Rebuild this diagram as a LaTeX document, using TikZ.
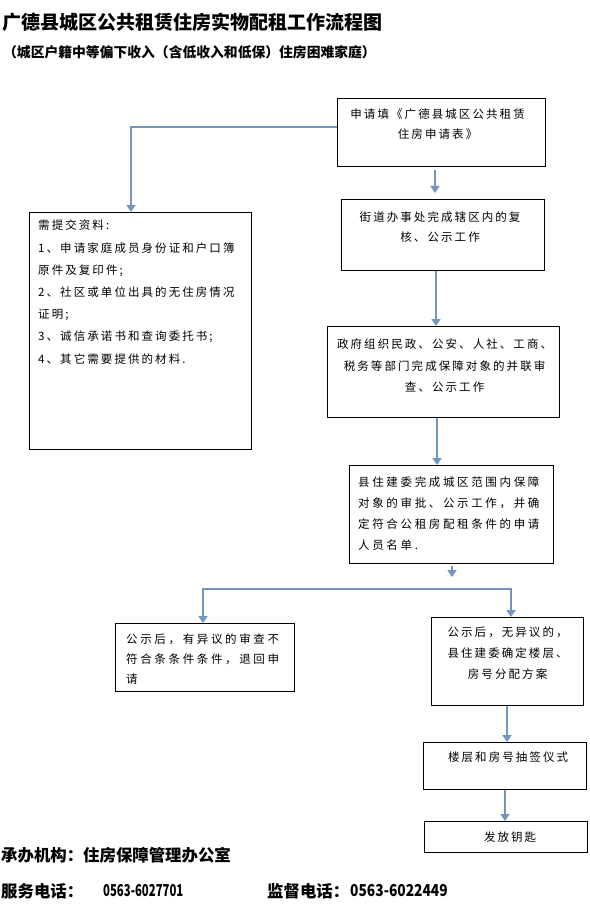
\documentclass[tikz,border=0pt]{standalone}
\usepackage{fontspec}
\usepackage{graphicx}
\usetikzlibrary{arrows.meta,calc}
\newfontfamily\cjk{Noto Sans CJK SC}
\newfontfamily\cjkls[LetterSpace=18]{Noto Sans CJK SC}
\newfontfamily\cjkwide[LetterSpace=23]{Noto Sans CJK SC}
\definecolor{conncol}{RGB}{115,150,190}
\tikzset{
  box/.style={draw=black, line width=1.2pt, inner sep=0pt, anchor=north west},
  txt/.style={inner sep=0pt, font=\cjkls\fontsize{11.5}{21}\selectfont, align=center, anchor=north},
  txtl/.style={inner sep=0pt, align=left, anchor=north west},
  conn/.style={draw=conncol, line width=2.6pt},
  arr/.style={-{Triangle[width=9pt,length=7pt]}},
  arrboth/.style={{Triangle[width=9pt,length=7pt]}-{Triangle[width=9pt,length=7pt]}},
  foot/.style={inner sep=0pt, anchor=west, font=\cjk\bfseries\fontsize{16.4}{18}\selectfont},
}
\begin{document}
\begin{tikzpicture}[x=1pt,y=-1pt]
\useasboundingbox[fill=white] (0,0) rectangle (589,904);

% titles
\node[inner sep=0pt, anchor=west, font=\cjk\bfseries\fontsize{19}{20}\selectfont] (title) at (2,22) {广德县城区公共租赁住房实物配租工作流程图};
\node[inner sep=0pt, anchor=west, font=\cjk\bfseries\fontsize{13.8}{14}\selectfont] (subtitle) at (3,52) {（城区户籍中等偏下收入（含低收入和低保）住房困难家庭）};

% boxes
\node[box, minimum width=208, minimum height=68] (b1) at (337,98) {};
\node[box, minimum width=203, minimum height=71] (b2) at (341,199) {};
\node[box, minimum width=222, minimum height=237] (b3) at (29,212) {};
\node[box, minimum width=232, minimum height=91] (b4) at (327,326) {};
\node[box, minimum width=204, minimum height=98] (b5) at (349,465) {};
\node[box, minimum width=179, minimum height=68] (b6) at (115,623) {};
\node[box, minimum width=152, minimum height=88] (b7) at (431,617) {};
\node[box, minimum width=163, minimum height=47] (b8) at (423,742) {};
\node[box, minimum width=163, minimum height=31] (b9) at (424,821) {};

% texts
\node[txt, font=\cjkls\fontsize{11.5}{20}\selectfont] (t1) at ($(b1.north)+(-4,11)$) {申请填《广德县城区公共租赁\\住房申请表》};
\node[txt, font=\cjkls\fontsize{11.5}{19.5}\selectfont] (t2) at ($(b2.north)+(-3,13)$) {街道办事处完成辖区内的复\\核、公示工作};
\node[txtl, font=\cjkls\fontsize{11.5}{22.2}\selectfont] (t3) at ($(b3.north west)+(9,8)$) {需提交资料:\\1、申请家庭成员身份证和户口簿\\原件及复印件;\\2、社区或单位出具的无住房情况\\证明;\\3、诚信承诺书和查询委托书;\\4、其它需要提供的材料.};
\node[txt, font=\cjkls\fontsize{11.5}{21.5}\selectfont] (t4) at ($(b4.north)+(1,13)$) {政府组织民政、公安、人社、工商、\\税务等部门完成保障对象的并联审\\查、公示工作};
\node[txtl, font=\cjkwide\fontsize{11.5}{20.7}\selectfont] (t5) at ($(b5.north west)+(9,12)$) {县住建委完成城区范围内保障\\对象的审批、公示工作，并确\\定符合公租房配租条件的申请\\人员名单.};
\node[txtl, font=\cjkwide\fontsize{11.5}{20}\selectfont] (t6) at ($(b6.north west)+(11,11)$) {公示后，有异议的审查不\\符合条条件条件，退回申\\请};
\node[txt, font=\cjkls\fontsize{11.5}{21}\selectfont] (t7) at ($(b7.north)+(0,10)$) {公示后，无异议的，\\县住建委确定楼层、\\房号分配方案};
\node[txt] (t8) at ($(b8.north)+(3,10)$) {楼层和房号抽签仪式};
\node[txt] (t9) at ($(b9.north)+(4,11)$) {发放钥匙};

% connectors
\coordinate (c1) at (131,127);
\draw[conn, arr] (b1.west |- c1) -- (c1) -- (c1 |- b3.north);
\coordinate (x1) at (435,0);
\draw[conn, arr, shorten <=3pt, shorten >=6pt] (x1 |- b1.south) -- (x1 |- b2.north);
\coordinate (x2) at (436,0);
\draw[conn, arr] (x2 |- b2.south) -- (x2 |- b4.north);
\coordinate (x4) at (437,0);
\draw[conn, arr] (x4 |- b4.south) -- (x4 |- b5.north);
\coordinate (x5) at (452,0);
\coordinate (e5) at (452,577);
\draw[conn, arr, shorten <=2pt] (x5 |- b5.south) -- (e5);
\coordinate (h1) at (203,589);
\coordinate (h2) at (511,589);
\draw[conn, arrboth] (h1 |- b6.north) -- (h1) -- (h2) -- (h2 |- b7.north);
\coordinate (x7) at (507,0);
\draw[conn, arr] (x7 |- b7.south) -- (x7 |- b8.north);
\coordinate (x8) at (505,0);
\draw[conn, arr] (x8 |- b8.south) -- (x8 |- b9.north);

% footer
\node[foot] (org) at (1,855) {承办机构：住房保障管理办公室};
\node[foot] (svc) at (1,891) {服务电话：};
\node[foot] (svcn) at (103,891) {\scalebox{0.69}[1]{0563-6027701}};
\node[foot] (sup) at (267,891) {监督电话：};
\node[foot] (supn) at (350,891) {\scalebox{0.84}[1]{0563-6022449}};
\end{tikzpicture}
\end{document}
